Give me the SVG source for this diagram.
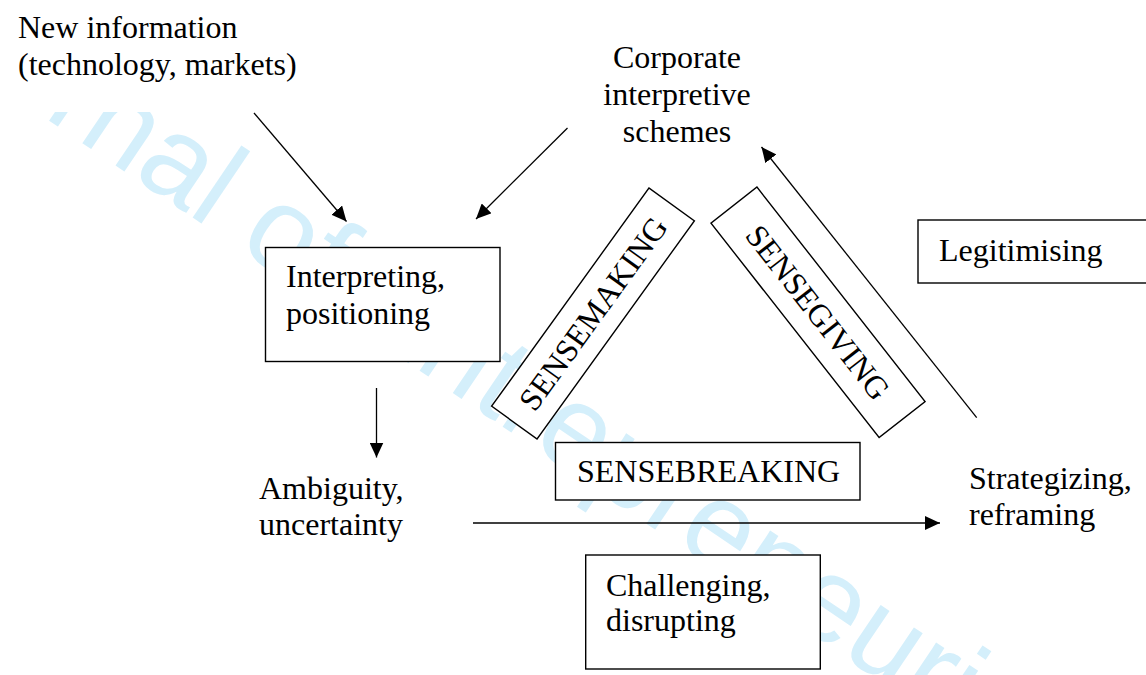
<svg xmlns="http://www.w3.org/2000/svg" width="1146" height="675" viewBox="0 0 1146 675">
  <style>
    .t { font-family: "Liberation Serif", "Times New Roman", serif; font-size: 32px; fill: #000; }
    .box { fill: #fff; stroke: #000; stroke-width: 1.4; }
    .conn { stroke: #000; stroke-width: 1.3; fill: none; marker-end: url(#ah); }
    .wm { font-family: "Liberation Sans", Arial, sans-serif; font-size: 120px; fill: #d4effb; }
  </style>
  <defs>
    <marker id="ah" markerUnits="userSpaceOnUse" markerWidth="16" markerHeight="14" refX="15" refY="7" orient="auto">
      <path d="M0,0 L15,7 L0,14 z" fill="#000"/>
    </marker>
    <clipPath id="wmclip">
      <rect x="0" y="112" width="1146" height="563"/>
    </clipPath>
  </defs>
  <rect width="1146" height="675" fill="#fff"/>

  <g id="watermark" clip-path="url(#wmclip)">
    <text class="wm" transform="translate(186,213) rotate(34)" x="-366.8" y="0">Journal of Entrepreneurial</text>
  </g>

  <g id="new-information">
    <text class="t" x="18" y="38">New information</text>
    <text class="t" x="18" y="75">(technology, markets)</text>
  </g>

  <g id="corporate-schemes">
    <text class="t" x="677" y="68" text-anchor="middle">Corporate</text>
    <text class="t" x="677" y="105" text-anchor="middle">interpretive</text>
    <text class="t" x="677" y="142" text-anchor="middle">schemes</text>
  </g>

  <g id="interpreting">
    <rect class="box" x="265.5" y="247.5" width="234.5" height="114"/>
    <text class="t" x="286" y="287">Interpreting,</text>
    <text class="t" x="286" y="324">positioning</text>
  </g>

  <g id="sensemaking" transform="translate(593,313.5) rotate(-54.2)">
    <rect class="box" x="-134.5" y="-28" width="269" height="56"/>
    <text class="t" x="0" y="11" text-anchor="middle">SENSEMAKING</text>
  </g>

  <g id="sensegiving" transform="translate(818,312.3) rotate(51.9)">
    <rect class="box" x="-136.2" y="-29.2" width="272.5" height="58.4"/>
    <text class="t" x="0" y="11" text-anchor="middle">SENSEGIVING</text>
  </g>

  <g id="legitimising">
    <rect class="box" x="918" y="220" width="240" height="63"/>
    <text class="t" x="939" y="261">Legitimising</text>
  </g>

  <g id="sensebreaking">
    <rect class="box" x="555.5" y="442.5" width="304.5" height="57.5"/>
    <text class="t" x="577" y="482">SENSEBREAKING</text>
  </g>

  <g id="ambiguity">
    <text class="t" x="259" y="499">Ambiguity,</text>
    <text class="t" x="259" y="535">uncertainty</text>
  </g>

  <g id="strategizing">
    <text class="t" x="969" y="488.5">Strategizing,</text>
    <text class="t" x="969" y="525">reframing</text>
  </g>

  <g id="challenging">
    <rect class="box" x="585.7" y="555" width="234.6" height="114"/>
    <text class="t" x="606" y="596">Challenging,</text>
    <text class="t" x="606" y="631">disrupting</text>
  </g>

  <g id="connectors">
    <line class="conn" x1="254" y1="113" x2="346.5" y2="221.5"/>
    <line class="conn" x1="567.5" y1="128" x2="476" y2="219"/>
    <line class="conn" x1="376.5" y1="388" x2="376.5" y2="457.5"/>
    <line class="conn" x1="473" y1="523" x2="940" y2="523"/>
    <line class="conn" x1="976.7" y1="417.7" x2="761.5" y2="147"/>
  </g>
</svg>
